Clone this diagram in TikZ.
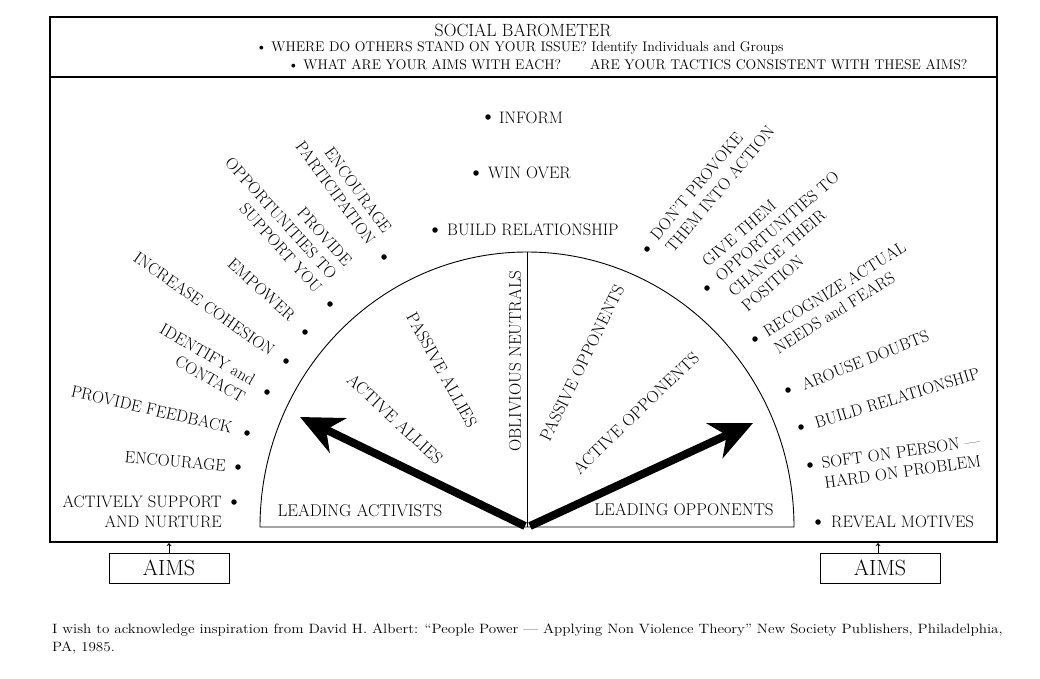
\documentclass[tikz,border=0pt]{standalone}
\usepackage{fontspec}
\usepackage{graphicx}
\usetikzlibrary{arrows.meta}
\begin{document}
\begin{tikzpicture}[x=1pt,y=-1pt,
  lab/.style={font=\fontsize{16.6}{20}\selectfont, inner sep=0pt},
  inlab/.style={font=\fontsize{17}{19}\selectfont, inner sep=0pt},
  hdr/.style={font=\fontsize{14}{16}\selectfont, inner sep=0pt, anchor=west},
  dot/.style={circle, fill=black, inner sep=0pt, minimum size=5.5pt},
  bigarrow/.style={line width=8pt, -{Stealth[length=42pt,width=38pt,inset=13pt]}},
  aimsbox/.style={draw, line width=0.9pt, minimum width=120pt, minimum height=30pt, inner sep=0pt, font=\fontsize{22}{24}\selectfont},
  frameline/.style={line width=1.2pt},
  tick/.style={line width=0.7pt, -{Stealth[length=3pt,width=5pt]}},
  foot/.style={anchor=west, inner sep=0pt, font=\fontsize{13.5}{15}\selectfont}
]
\useasboundingbox (0,0) rectangle (1040,678);
\fill[white] (0,0) rectangle (1040,678);

% frame and header
\draw[frameline] (50,17) rectangle (997,542);
\draw[frameline] (50,77) -- (997,77);
\node[font=\fontsize{17.7}{19}\selectfont, inner sep=0pt] (title) at (523,30) {SOCIAL BAROMETER};
\node[hdr] (q1) at (256,48) {\textbullet\ WHERE DO OTHERS STAND ON YOUR ISSUE? Identify Individuals and Groups};
\node[hdr] (q2) at (288,65) {\textbullet\ WHAT ARE YOUR AIMS WITH EACH?};
\node[hdr] (q3) at (590,65) {ARE YOUR TACTICS CONSISTENT WITH THESE AIMS?};

% semicircle
\coordinate (C) at (527,527);
\coordinate (Lend) at (260,527);
\coordinate (Top) at (527,252);
\draw[line width=0.9pt] (Lend) arc[start angle=180, end angle=360, x radius=267, y radius=275] -- (Lend) -- cycle;
\draw[line width=0.9pt] (C) -- (Top);

% inner labels
\node[inlab] (la) at (360,511) {LEADING ACTIVISTS};
\node[inlab, rotate=-43] (aa) at (395,419) {ACTIVE ALLIES};
\node[inlab, rotate=-61] (pa) at (442,370) {PASSIVE ALLIES};
\node[inlab, rotate=90] (on) at (515,361) {OBLIVIOUS NEUTRALS};
\node[inlab, rotate=64] (po) at (582,363) {PASSIVE OPPONENTS};
\node[inlab, rotate=44] (ao) at (636,413) {ACTIVE OPPONENTS};
\node[inlab] (lo) at (684,510) {LEADING OPPONENTS};

% arrows
\coordinate (tailL) at (525,526);
\coordinate (tipL) at (300,417);
\coordinate (tailR) at (530,526);
\coordinate (tipR) at (753,423);
\draw[bigarrow] (tailL) -- (tipL);
\draw[bigarrow] (tailR) -- (tipR);

% top aims
\node[dot] (dInform) at (488,117) {};
\node[lab, anchor=west] (tInform) at (499,118) {INFORM};
\node[dot] (dWin) at (476,173) {};
\node[lab, anchor=west] (tWin) at (488,173) {WIN OVER};
\node[dot] (dBuildT) at (435,230) {};
\node[lab, anchor=west] (tBuildT) at (447,230) {BUILD RELATIONSHIP};

% left aims
\node[dot] (dEncP) at (384,257) {};
\node[lab, anchor=east, align=right, rotate=-54] (tEncP) at (380,237) {ENCOURAGE\\PARTICIPATION};
\node[dot] (dProv) at (330,304) {};
\node[lab, anchor=east, align=right, rotate=-48] (tProv) at (334,277) {PROVIDE\\OPPORTUNITIES TO\\SUPPORT YOU};
\node[dot] (dEmp) at (305,332) {};
\node[lab, anchor=east, rotate=-42] (tEmp) at (293,318) {EMPOWER};
\node[dot] (dInc) at (286,361) {};
\node[lab, anchor=east, rotate=-35] (tInc) at (273,352) {INCREASE COHESION};
\node[dot] (dIdent) at (267,392) {};
\node[lab, anchor=east, align=right, rotate=-30] (tIdent) at (249,390) {IDENTIFY and\\CONTACT};
\node[dot] (dFeed) at (247,433) {};
\node[lab, anchor=east, rotate=-13] (tFeed) at (232,428) {PROVIDE FEEDBACK};
\node[dot] (dEnc) at (238,467) {};
\node[lab, anchor=east, rotate=-5] (tEnc) at (226,466) {ENCOURAGE};
\node[dot] (dAct) at (234,502) {};
\node[lab, anchor=east, align=right] (tAct) at (222,512) {ACTIVELY SUPPORT\\AND NURTURE};

% right aims
\node[dot] (dProvoke) at (647,249) {};
\node[lab, anchor=west, align=left, rotate=50] (tProvoke) at (661,244) {DON'T PROVOKE\\THEM INTO ACTION};
\node[dot] (dGive) at (707,288) {};
\node[lab, anchor=west, align=left, rotate=41] (tGive) at (724,286) {GIVE THEM\\OPPORTUNITIES TO\\CHANGE THEIR\\POSITION};
\node[dot] (dRec) at (755,339) {};
\node[lab, anchor=west, align=left, rotate=32] (tRec) at (770,341) {RECOGNIZE ACTUAL\\NEEDS and FEARS};
\node[dot] (dArouse) at (788,390) {};
\node[lab, anchor=west, rotate=21.5] (tArouse) at (802,385) {AROUSE DOUBTS};
\node[dot] (dBuildR) at (801,427) {};
\node[lab, anchor=west, rotate=17] (tBuildR) at (815,423) {BUILD RELATIONSHIP};
\node[dot] (dSoft) at (810,465) {};
\node[lab, anchor=west, align=left, rotate=8] (tSoft) at (823,473) {SOFT ON PERSON ---\\HARD ON PROBLEM};
\node[dot] (dRev) at (818,522) {};
\node[lab, anchor=west] (tRev) at (831,522) {REVEAL MOTIVES};

% AIMS boxes
\node[aimsbox] (aimsL) at (169,568) {AIMS};
\node[aimsbox] (aimsR) at (880,568) {AIMS};
\coordinate (tkL) at (169,543);
\coordinate (tkR) at (878,543);
\draw[tick] (aimsL.north) -- (tkL);
\draw[tick] (aimsR.north -| tkR) -- (tkR);

% footnote
\node[foot] (fn1) at (52,630) {\scalebox{1.12}[1]{I wish to acknowledge inspiration from David H. Albert: ``People Power --- Applying Non Violence Theory'' New Society Publishers, Philadelphia,}};
\node[foot] (fn2) at (52,648) {\scalebox{1.12}[1]{PA, 1985.}};
\end{tikzpicture}
\end{document}
